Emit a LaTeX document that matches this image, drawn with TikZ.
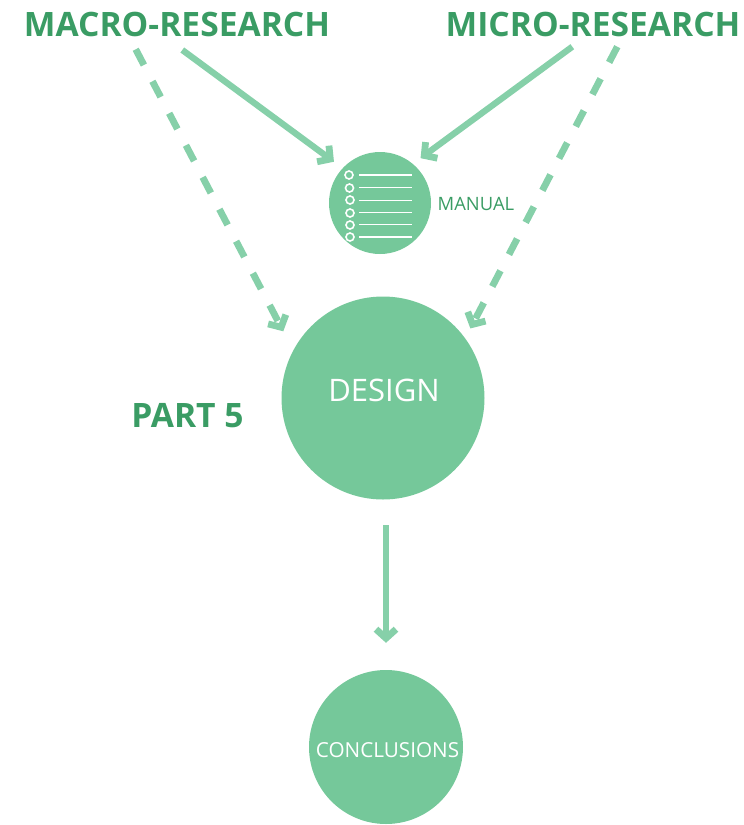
\documentclass[tikz,border=0pt]{standalone}
\usepackage{fontspec}
\setmainfont{Open Sans}
\usetikzlibrary{arrows.meta,calc}
\definecolor{blobgreen}{HTML}{75C89A}
\definecolor{arrowgreen}{HTML}{86D0A9}
\definecolor{textgreen}{HTML}{3A9C64}
\tikzset{
  blob/.style={circle,fill=blobgreen,inner sep=0pt},
  headline/.style={text=textgreen,inner sep=0pt,font=\fontsize{33.6}{33.6}\selectfont\bfseries},
  conn/.style={draw=arrowgreen,line width=6.3pt,-{Straight Barb[length=9pt,width=20pt,line width=6.8pt]}},
  dashconn/.style={conn,line width=6.8pt,dash pattern=on 17.7pt off 18.4pt},
  listline/.style={draw=white,line width=1.5pt},
  listdot/.style={draw=white,line width=1.6pt},
}
\begin{document}
\begin{tikzpicture}[x=1pt,y=-1pt]
\useasboundingbox (0,0) rectangle (744,825);
\node[headline] (macro) at (177,24) {MACRO-RESEARCH};
\node[headline] (micro) at (593,24) {MICRO-RESEARCH};
\node[headline] (part) at (187.5,416) {PART 5};
\node[blob,minimum size=102pt] (manual) at (380,203) {};
\node[blob,minimum size=203pt] (design) at (383,398) {};
\node[blob,minimum size=154pt] (concl) at (386,747) {};
\node[inner sep=0pt,text=white,font=\fontsize{31}{31}\selectfont] (designt) at (384,390) {DESIGN};
\node[inner sep=0pt,text=white,font=\fontsize{20.7}{20.7}\selectfont] (conclt) at (387.5,750) {CONCLUSIONS};
\node[inner sep=0pt,text=textgreen,font=\fontsize{18.4}{18.4}\selectfont] (manualt) at (476,203.5) {MANUAL};
\foreach \yy/\xx in {175/349,188/349.5,200/350,213/350,225/350,237/350}{
  \draw[listdot] (\xx,\yy) circle (4pt);
}
\foreach \yy in {175,187.5,200.5,212.5,224.5,237}{
  \draw[listline] (359,\yy) -- (412,\yy);
}
\coordinate (macroS) at (182.3,50);
\coordinate (macroD) at (135.7,49.3);
\coordinate (microS) at (572.3,46.7);
\coordinate (microD) at (617.3,46.7);
\coordinate (designS) at (386,525);
\draw[conn] (macroS) -- ($(manual.137)!10.7pt!(macroS)$);
\draw[conn] (microS) -- ($(manual.50.6)!9.5pt!(microS)$);
\draw[dashconn] (macroD) -- ($(design.152.2)!21.4pt!(macroD)$);
\draw[dashconn] (microD) -- ($(design.36.2)!11pt!(microD)$);
\draw[conn] (designS) -- ($(concl.north)!27pt!(designS)$);
\end{tikzpicture}
\end{document}
